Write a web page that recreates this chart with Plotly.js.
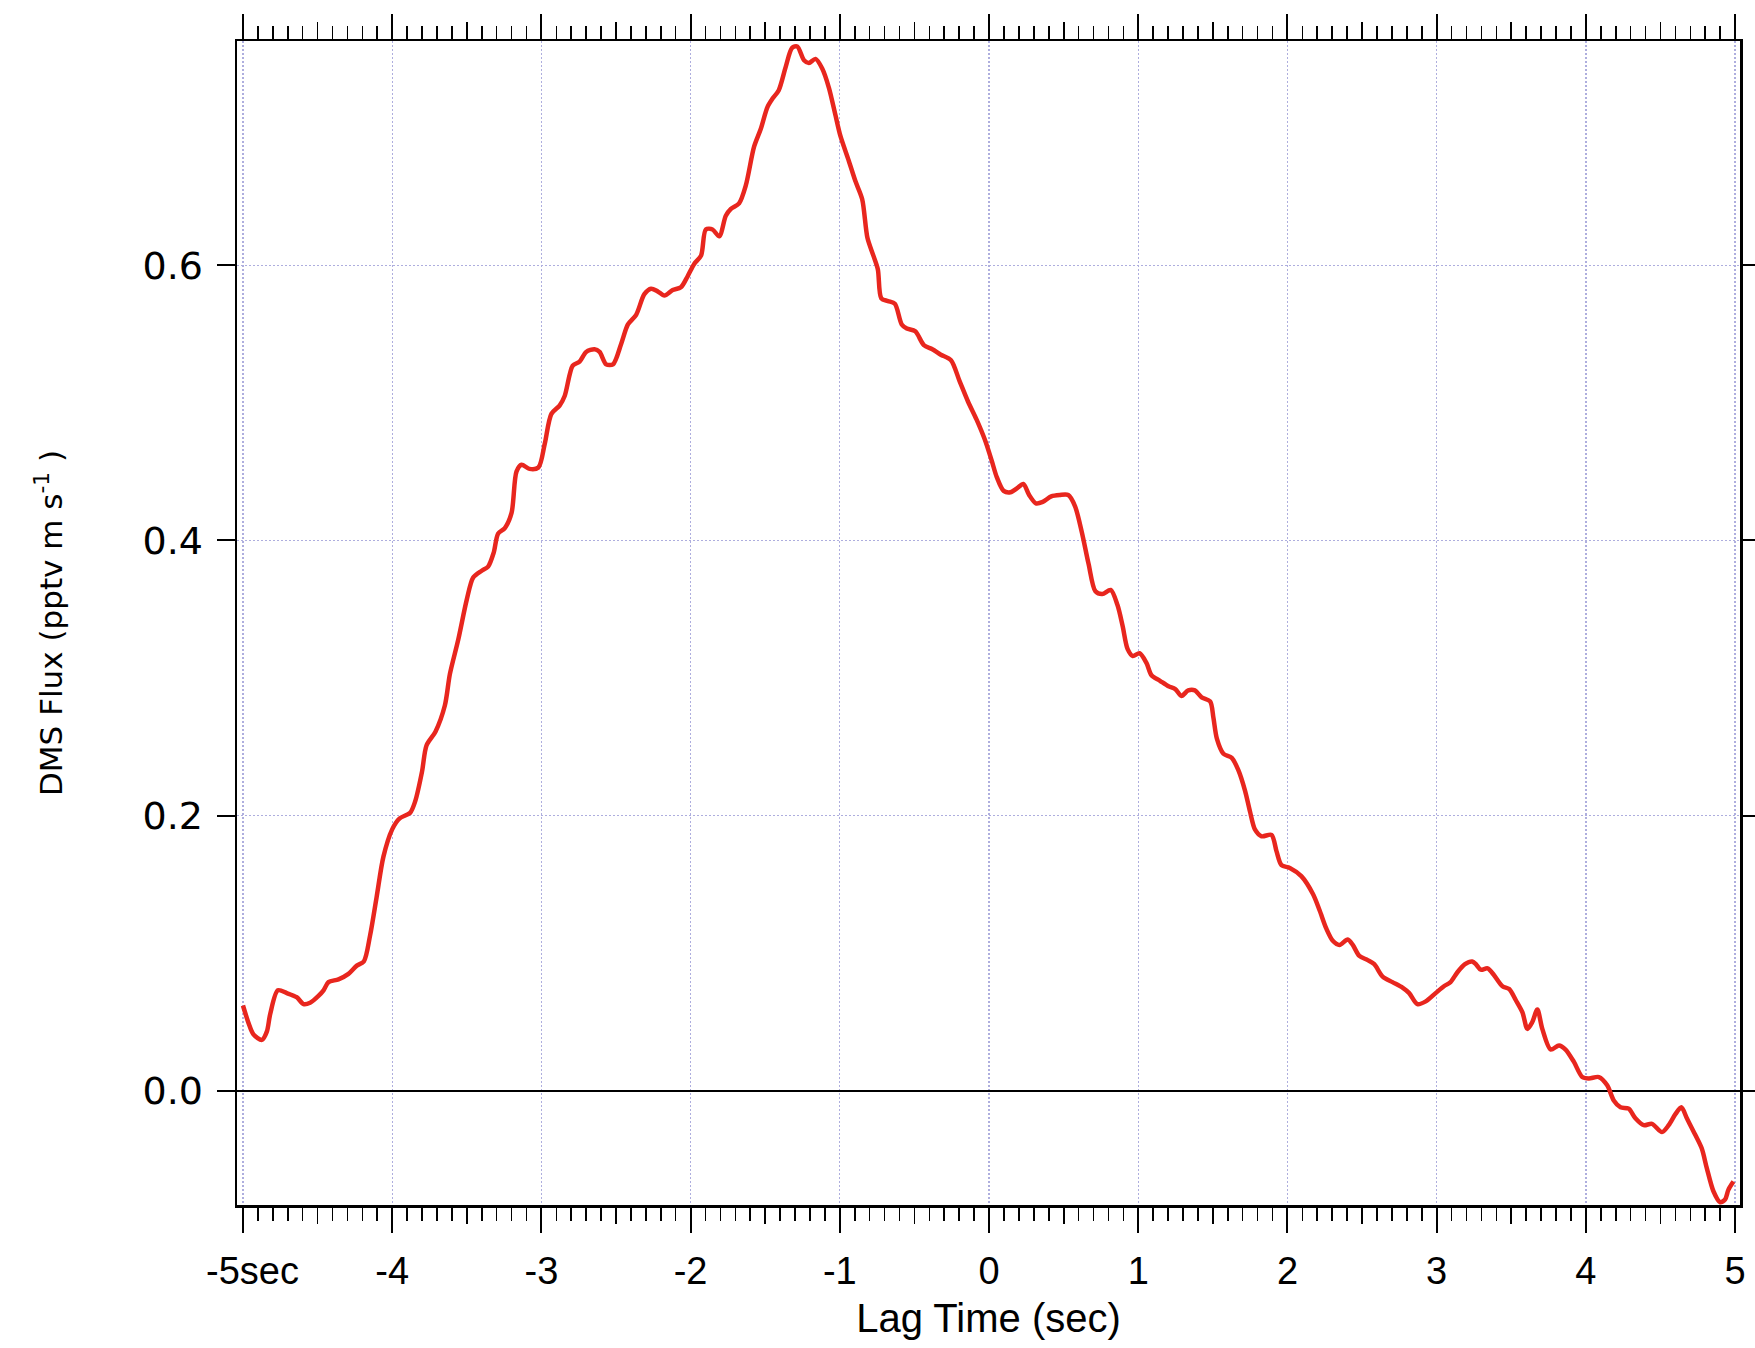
<!DOCTYPE html>
<html>
<head>
<meta charset="utf-8">
<script src="https://cdn.plot.ly/plotly-3.0.1.min.js"></script>
<style>
  html, body { margin: 0; padding: 0; background: #ffffff; }
  #chart { width: 1755px; height: 1348px; }
</style>
</head>
<body>
<div id="chart"></div>
<script>
// Lag time (sec) and DMS flux (pptv m s^-1)
const lagTime = [
  -5.00, -4.962, -4.93, -4.873, -4.84, -4.817, -4.766, -4.706, -4.64, -4.594,
  -4.55, -4.494, -4.46, -4.427, -4.36, -4.293, -4.237, -4.19, -4.148, -4.104,
  -4.059, -4.00, -3.95, -3.88, -3.847, -3.80, -3.77, -3.71, -3.647, -3.613,
  -3.557, -3.50, -3.457, -3.40, -3.357, -3.32, -3.29, -3.245, -3.20, -3.167,
  -3.133, -3.08, -3.02, -2.978, -2.933, -2.878, -2.844, -2.79, -2.744, -2.70,
  -2.644, -2.61, -2.566, -2.52, -2.465, -2.42, -2.365, -2.31, -2.265, -2.22,
  -2.176, -2.12, -2.065, -2.02, -1.976, -1.93, -1.898, -1.853, -1.808, -1.764,
  -1.73, -1.675, -1.63, -1.575, -1.53, -1.485, -1.452, -1.41, -1.363, -1.32,
  -1.285, -1.24, -1.207, -1.163, -1.118, -1.073, -1.029, -0.996, -0.94, -0.895,
  -0.85, -0.815, -0.775, -0.745, -0.722, -0.677, -0.631, -0.585, -0.551, -0.494,
  -0.437, -0.38, -0.323, -0.255, -0.198, -0.141, -0.084, -0.027, 0.018, 0.052,
  0.098, 0.144, 0.189, 0.23, 0.269, 0.314, 0.36, 0.417, 0.474, 0.531,
  0.576, 0.622, 0.667, 0.713, 0.759, 0.815, 0.861, 0.895, 0.929, 0.964,
  1.009, 1.055, 1.089, 1.146, 1.203, 1.248, 1.29, 1.335, 1.38, 1.425,
  1.482, 1.504, 1.527, 1.571, 1.627, 1.671, 1.716, 1.749, 1.782, 1.827,
  1.893, 1.927, 1.96, 2.016, 2.093, 2.171, 2.216, 2.26, 2.304, 2.349,
  2.404, 2.438, 2.482, 2.538, 2.582, 2.638, 2.704, 2.771, 2.816, 2.871,
  2.927, 2.993, 3.049, 3.093, 3.138, 3.19, 3.238, 3.263, 3.296, 3.341,
  3.385, 3.441, 3.486, 3.53, 3.575, 3.608, 3.641, 3.675, 3.708, 3.764,
  3.82, 3.864, 3.92, 3.976, 4.02, 4.087, 4.143, 4.187, 4.232, 4.287,
  4.332, 4.388, 4.443, 4.51, 4.555, 4.60, 4.64, 4.677, 4.733, 4.777,
  4.81, 4.855, 4.90, 4.933, 4.955, 4.989
];
const dmsFlux = [
  0.062, 0.049, 0.041, 0.037, 0.043, 0.056, 0.073, 0.071, 0.068, 0.063,
  0.064, 0.069, 0.073, 0.079, 0.081, 0.085, 0.091, 0.094, 0.113, 0.141,
  0.170, 0.190, 0.198, 0.202, 0.210, 0.232, 0.251, 0.261, 0.280, 0.303,
  0.328, 0.357, 0.373, 0.378, 0.381, 0.391, 0.405, 0.409, 0.420, 0.450,
  0.455, 0.452, 0.453, 0.470, 0.492, 0.498, 0.505, 0.527, 0.530, 0.537,
  0.539, 0.537, 0.528, 0.528, 0.543, 0.557, 0.564, 0.579, 0.583, 0.581,
  0.578, 0.582, 0.584, 0.592, 0.601, 0.607, 0.626, 0.626, 0.621, 0.636,
  0.641, 0.645, 0.658, 0.686, 0.699, 0.715, 0.721, 0.727, 0.744, 0.758,
  0.759, 0.749, 0.747, 0.750, 0.743, 0.729, 0.709, 0.694, 0.676, 0.661,
  0.648, 0.620, 0.607, 0.597, 0.576, 0.574, 0.572, 0.557, 0.554, 0.552,
  0.542, 0.539, 0.535, 0.531, 0.516, 0.501, 0.488, 0.473, 0.458, 0.446,
  0.436, 0.435, 0.438, 0.441, 0.433, 0.427, 0.428, 0.432, 0.433, 0.433,
  0.425, 0.406, 0.383, 0.363, 0.361, 0.364, 0.353, 0.338, 0.321, 0.316,
  0.318, 0.311, 0.302, 0.298, 0.294, 0.292, 0.287, 0.291, 0.291, 0.286,
  0.283, 0.271, 0.256, 0.245, 0.242, 0.233, 0.218, 0.203, 0.190, 0.185,
  0.186, 0.174, 0.164, 0.162, 0.156, 0.143, 0.131, 0.118, 0.109, 0.106,
  0.110, 0.106, 0.098, 0.095, 0.092, 0.083, 0.079, 0.075, 0.071, 0.063,
  0.065, 0.071, 0.076, 0.079, 0.086, 0.092, 0.094, 0.092, 0.088, 0.089,
  0.084, 0.076, 0.074, 0.066, 0.057, 0.045, 0.050, 0.059, 0.045, 0.030,
  0.033, 0.030, 0.021, 0.010, 0.009, 0.010, 0.004, -0.007, -0.012, -0.013,
  -0.020, -0.025, -0.024, -0.030, -0.025, -0.017, -0.012, -0.020, -0.032, -0.042,
  -0.056, -0.073, -0.081, -0.079, -0.072, -0.066
];

// Axis tick values and labels
const xTickVals = [-5, -4, -3, -2, -1, 0, 1, 2, 3, 4, 5];
const xTickText = ['\u2002-5sec', '-4', '-3', '-2', '-1', '0', '1', '2', '3', '4', '5'];
const xHalfTickVals = [-4.5, -3.5, -2.5, -1.5, -0.5, 0.5, 1.5, 2.5, 3.5, 4.5];
const yTickVals = [0, 0.2, 0.4, 0.6];
const yTickText = ['0.0', '0.2', '0.4', '0.6'];

const xRange = [-5.04, 5.033];
const yRange = [-0.083, 0.763];

const gridColor = '#aeaede';

const traces = [
  {
    x: lagTime, y: dmsFlux,
    type: 'scatter', mode: 'lines',
    line: { color: '#e8261e', width: 4.5, shape: 'spline', smoothing: 0.8 },
    hoverinfo: 'x+y', showlegend: false
  },
  {
    x: lagTime, y: dmsFlux,
    xaxis: 'x2', yaxis: 'y',
    type: 'scatter', mode: 'lines',
    line: { color: 'rgba(0,0,0,0)', width: 0 },
    hoverinfo: 'skip', showlegend: false
  }
];

const layout = {
  width: 1755, height: 1348,
  paper_bgcolor: '#ffffff', plot_bgcolor: '#ffffff',
  margin: { l: 237, r: 15, t: 41, b: 143, pad: 0 },
  showlegend: false,
  xaxis: {
    range: xRange, autorange: false,
    tickmode: 'array', tickvals: xTickVals, ticktext: xTickText,
    ticks: 'outside', ticklen: 25, tickwidth: 2, tickcolor: '#000',
    showline: true, linecolor: '#000', linewidth: 2.5, mirror: 'ticks',
    showgrid: true, gridcolor: gridColor, gridwidth: 1.3, griddash: '2px,2px',
    zeroline: false,
    tickfont: { family: 'Liberation Sans, Arial, sans-serif', size: 38, color: '#000' },
    ticklabelstandoff: 6,
    minor: { dtick: 0.1, tick0: 0, ticks: 'outside', ticklen: 13, tickwidth: 1.6, tickcolor: '#000', showgrid: false },
    title: { text: 'Lag Time (sec)', font: { family: 'Liberation Sans, Arial, sans-serif', size: 40, color: '#000' }, standoff: 13 }
  },
  xaxis2: {
    overlaying: 'x', anchor: 'y', side: 'bottom',
    range: xRange, autorange: false,
    tickmode: 'array', tickvals: xHalfTickVals,
    ticks: 'outside', ticklen: 18, tickwidth: 1.8, tickcolor: '#000',
    showticklabels: false, showgrid: false, zeroline: false,
    showline: false, mirror: 'ticks'
  },
  yaxis: {
    range: yRange, autorange: false,
    tickmode: 'array', tickvals: yTickVals, ticktext: yTickText,
    ticks: 'outside', ticklen: 18, tickwidth: 2, tickcolor: '#000',
    showline: true, linecolor: '#000', linewidth: 2.5, mirror: 'ticks',
    showgrid: true, gridcolor: gridColor, gridwidth: 1.3, griddash: '2px,2px',
    zeroline: true, zerolinecolor: '#000', zerolinewidth: 2,
    tickfont: { family: 'DejaVu Sans, Verdana, sans-serif', size: 38, color: '#000' },
    ticklabelstandoff: 6,
    title: { text: 'DMS Flux (pptv m s<sup>-1</sup> )', font: { family: 'DejaVu Sans, Verdana, sans-serif', size: 31, color: '#000' }, standoff: 71 }
  }
};

Plotly.newPlot('chart', traces, layout, { displayModeBar: false, staticPlot: true });
</script>
</body>
</html>
